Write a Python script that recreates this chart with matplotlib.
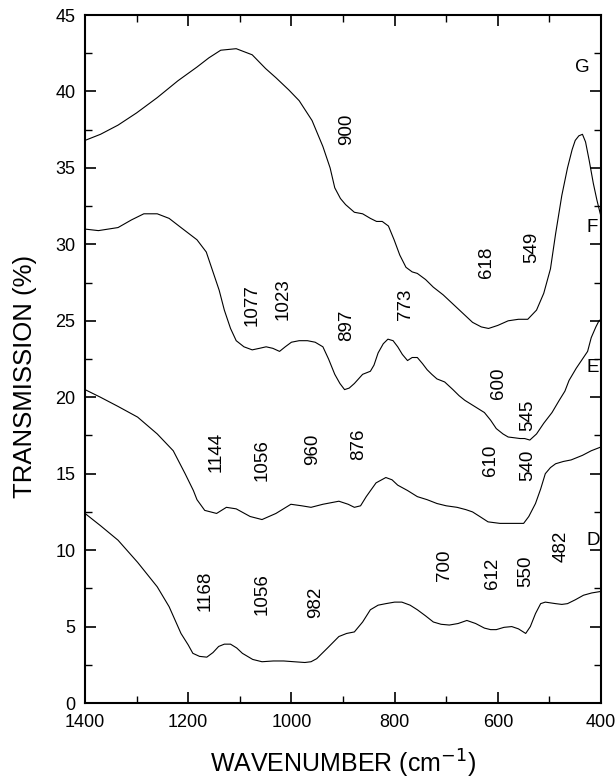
import numpy as np
import matplotlib.pyplot as plt
from matplotlib.ticker import MultipleLocator

plt.rcParams['font.family'] = ['Liberation Sans', 'DejaVu Sans']

# spectrum G
g_wn = [1400, 1370, 1336, 1300, 1260, 1220, 1183, 1160, 1137, 1107, 1076, 1050, 1030,
        1005, 985, 960, 939, 925, 916, 905, 895, 878, 862, 847, 835, 824, 812, 801, 790,
        778, 766, 756, 740, 725, 706, 687, 668, 649, 632, 618, 600, 580, 560, 542,
        525, 511, 498, 488, 476, 465, 456, 450, 443, 436, 430, 423, 415, 408, 400]
g_t = [36.8, 37.2, 37.8, 38.6, 39.6, 40.7, 41.6, 42.2, 42.7, 42.8, 42.4, 41.5, 40.9,
       40.1, 39.4, 38.1, 36.4, 35.0, 33.7, 33.0, 32.6, 32.1, 32.0, 31.7, 31.5, 31.5, 31.2, 30.3, 29.3,
       28.5, 28.2, 28.1, 27.7, 27.2, 26.7, 26.1, 25.5, 24.9, 24.6, 24.5, 24.7, 25.0, 25.1, 25.1,
       25.7, 26.8, 28.4, 30.7, 33.2, 35.0, 36.2, 36.8, 37.1, 37.2, 36.7, 35.5, 34.0, 32.9, 31.8]

# spectrum F
f_wn = [1400, 1374, 1336, 1310, 1286, 1260, 1237, 1214, 1183, 1165, 1153, 1140, 1130,
        1118, 1107, 1092, 1076, 1062, 1049, 1036, 1023, 1012, 1000, 985, 969, 954, 939,
        928, 916, 906, 897, 888, 878, 870, 862, 847, 840, 832, 822, 813, 803, 794, 785,
        775, 766, 756, 746, 737, 728, 718, 703, 687, 675, 664, 645, 626, 614, 603,
        590, 580, 568, 557, 548, 538, 525, 511, 495, 481, 470, 462, 448, 434, 426,
        419, 410, 404, 400]
f_t = [31.0, 30.9, 31.1, 31.6, 32.0, 32.0, 31.7, 31.1, 30.3, 29.5, 28.3, 27.0, 25.7,
       24.5, 23.7, 23.3, 23.1, 23.2, 23.3, 23.2, 23.0, 23.3, 23.6, 23.7, 23.7, 23.6, 23.3,
       22.5, 21.5, 20.9, 20.5, 20.6, 20.9, 21.2, 21.5, 21.7, 22.1, 22.9, 23.5, 23.8, 23.7, 23.3, 22.8,
       22.4, 22.6, 22.6, 22.2, 21.8, 21.5, 21.2, 21.0, 20.5, 20.1, 19.8, 19.4, 19.0, 18.5, 17.95,
       17.6, 17.4, 17.35, 17.3, 17.3, 17.2, 17.6, 18.3, 19.0, 19.8, 20.4, 21.1, 21.9, 22.6, 23.0,
       23.9, 24.6, 25.0, 25.1]

# spectrum E
e_wn = [1400, 1370, 1336, 1298, 1260, 1229, 1206, 1190, 1183, 1168, 1145, 1126, 1107,
        1080, 1057, 1030, 1001, 980, 962, 939, 908, 890, 878, 866, 855, 836, 817,
        805, 794, 775, 756, 737, 718, 700, 679, 662, 649, 635, 619, 596, 573, 550,
        540, 527, 517, 508, 498, 488, 473, 458, 436, 419, 400]
e_t = [20.5, 20.0, 19.4, 18.7, 17.6, 16.5, 15.0, 13.9, 13.3, 12.6, 12.4, 12.8, 12.7,
       12.2, 12.0, 12.4, 13.0, 12.9, 12.8, 13.0, 13.2, 13.0, 12.8, 12.9, 13.5, 14.4, 14.75,
       14.6, 14.25, 13.9, 13.5, 13.3, 13.05, 12.9, 12.8, 12.65, 12.5, 12.2, 11.85, 11.75, 11.75, 11.75,
       12.2, 13.05, 14.0, 15.0, 15.4, 15.65, 15.8, 15.9, 16.2, 16.5, 16.75]

# spectrum D
d_wn = [1400, 1370, 1336, 1298, 1260, 1237, 1214, 1200, 1191, 1178, 1164, 1152, 1141,
        1130, 1118, 1106, 1095, 1075, 1057, 1035, 1015, 995, 974, 962, 951, 930, 908,
        893, 878, 862, 847, 832, 817, 800, 786, 770, 756, 740, 725, 710, 694, 677, 660,
        643, 626, 614, 603, 588, 573, 560, 546, 537, 527, 517, 508, 498, 488, 476, 465,
        450, 434, 418, 400]
d_t = [12.4, 11.6, 10.65, 9.2, 7.6, 6.3, 4.55, 3.8, 3.25, 3.05, 3.0, 3.3, 3.7,
       3.85, 3.85, 3.6, 3.25, 2.85, 2.7, 2.75, 2.75, 2.7, 2.65, 2.7, 2.9, 3.6, 4.35,
       4.55, 4.65, 5.3, 6.1, 6.4, 6.5, 6.6, 6.6, 6.4, 6.1, 5.7, 5.3, 5.15, 5.1, 5.2, 5.4,
       5.2, 4.9, 4.8, 4.8, 4.95, 5.0, 4.85, 4.55, 5.0, 5.85, 6.5, 6.6, 6.55, 6.5, 6.45, 6.5,
       6.75, 7.05, 7.2, 7.3]

# peak labels (text, wavenumber, transmission)
peak_txt = ['900', '1077', '1023', '897', '773', '618', '549',
            '600', '545',
            '1144', '1056', '960', '876', '610', '540',
            '1168', '1056', '982', '700', '612', '550', '482']
peak_wn = [893, 1076, 1017, 893, 778, 621, 534,
           598, 542,
           1146, 1057, 958, 870, 614, 543,
           1168, 1057, 954, 704, 610, 546, 477]
peak_t = [37.55, 26.0, 26.45, 24.7, 26.1, 28.85, 29.8,
          20.9, 18.85,
          16.4, 15.9, 16.6, 16.9, 15.9, 15.55,
          7.35, 7.15, 6.6, 9.0, 8.5, 8.6, 10.25]

curve_names = ['G', 'F', 'E', 'D']
name_wn = [436, 418, 417, 416]
name_t = [41.6, 31.1, 21.95, 10.65]

fig = plt.figure(figsize=(6.16, 7.8), dpi=100)
ax = fig.add_axes([0.138, 0.0987, 0.8377, 0.882])

for wn, t in [(g_wn, g_t), (f_wn, f_t), (e_wn, e_t), (d_wn, d_t)]:
    ax.plot(wn, t, color='black', lw=0.8)

for s, x, y in zip(peak_txt, peak_wn, peak_t):
    ax.text(x, y, s, rotation=90, ha='center', va='center', fontsize=13.5)

for s, x, y in zip(curve_names, name_wn, name_t):
    ax.text(x, y, s, ha='center', va='center', fontsize=13.5)

ax.set_xlim(1400, 400)
ax.set_ylim(0, 45)
ax.xaxis.set_major_locator(MultipleLocator(200))
ax.xaxis.set_minor_locator(MultipleLocator(100))
ax.yaxis.set_major_locator(MultipleLocator(5))
ax.yaxis.set_minor_locator(MultipleLocator(2.5))
ax.tick_params(which='both', direction='in', top=True, right=True, labelsize=13)
ax.tick_params(axis='y', pad=7)
ax.tick_params(axis='x', pad=8)
ax.tick_params(which='major', length=8, width=1.2)
ax.tick_params(which='minor', length=5, width=1.0)
for sp in ax.spines.values():
    sp.set_linewidth(1.5)

ax.set_xlabel('WAVENUMBER (cm$^{-1}$)', fontsize=18, labelpad=12)
ax.set_ylabel('TRANSMISSION (%)', fontsize=18.5)
ax.yaxis.set_label_coords(-0.093, 0.475)

fig.savefig('out.png', dpi=100)
